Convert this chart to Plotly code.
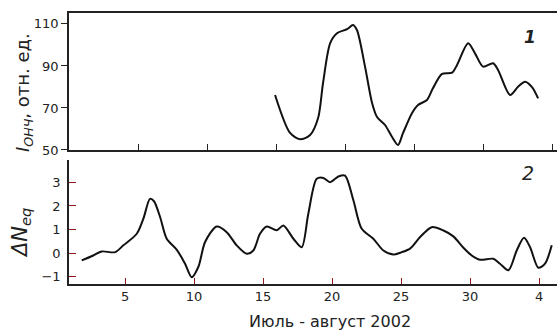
import plotly.graph_objects as go

# Panel 1: I_ONCH (relative units) vs day (July = 1..31, August = 32..)
days1 = [15.87, 16.96, 17.68, 18.41, 18.99, 19.35, 19.86, 20.36, 21.09, 21.52, 21.81,
         22.39, 22.9, 23.26, 23.84, 24.35, 24.78, 25.14, 25.8, 26.23, 26.88, 27.32,
         27.97, 28.7, 29.06, 29.86, 30.36, 30.94, 31.67, 32.03, 32.9, 33.48, 33.99,
         34.49, 34.93]
vals1 = [76.2, 58.1, 55.1, 57.1, 65.2, 82.0, 100.8, 105.6, 107.5, 109.5, 107.0,
         89.7, 72.4, 65.7, 61.9, 56.2, 52.4, 58.0, 67.6, 71.4, 73.8, 79.5,
         86.2, 86.8, 90.5, 100.8, 96.0, 89.7, 91.3, 88.1, 76.2, 80.1, 82.5,
         79.9, 74.6]

# Panel 2: Delta N_eq
days2 = [1.86, 2.7, 3.31, 4.28, 4.88, 5.85, 6.33, 6.81, 7.1, 7.54, 8.02, 8.75, 9.35,
         9.83, 10.31, 10.8, 11.64, 12.37, 13.09, 13.82, 14.3, 14.78, 15.27, 15.99,
         16.47, 17.2, 17.8, 18.28, 18.89, 19.37, 19.86, 20.46, 20.94, 21.55, 22.15,
         22.99, 23.72, 24.44, 25.05, 25.65, 26.38, 27.22, 28.07, 28.79, 29.52, 30.12,
         30.72, 31.69, 32.17, 32.78, 33.38, 33.91, 34.35, 34.95, 35.43, 35.92]
vals2 = [-0.31, -0.1, 0.07, 0.04, 0.33, 0.82, 1.46, 2.3, 2.2, 1.53, 0.61, 0.14, -0.45,
         -1.02, -0.59, 0.47, 1.13, 0.89, 0.33, -0.03, 0.11, 0.82, 1.13, 0.97,
         1.17, 0.61, 0.25, 1.67, 3.15, 3.19, 3.01, 3.25, 3.29, 2.23, 1.03,
         0.61, 0.11, -0.06, 0.04, 0.19, 0.68, 1.1, 0.96, 0.71, 0.23, -0.1,
         -0.28, -0.24, -0.45, -0.73, 0.11, 0.65, 0.25, -0.62, -0.45, 0.33]

xtick_vals = [5, 10, 15, 20, 25, 30, 35]
xtick_text = ["5", "10", "15", "20", "25", "30", "4"]
top_xtick_vals = [6, 11, 16, 21, 26, 31, 36]
y1_ticks = [50, 70, 90, 110]
y2_ticks = [-1, 0, 1, 2, 3]

FONT = "DejaVu Sans"
DARKRED = "#8b1a1a"

fig = go.Figure()
fig.add_trace(go.Scatter(x=days1, y=vals1, mode="lines", line=dict(color="#111", width=2, shape="spline", smoothing=0.8),
                         xaxis="x2", yaxis="y2", showlegend=False, hoverinfo="skip"))
fig.add_trace(go.Scatter(x=days2, y=vals2, mode="lines", line=dict(color="#111", width=2, shape="spline", smoothing=0.8),
                         xaxis="x", yaxis="y", showlegend=False, hoverinfo="skip"))

xr = [0.94, 36.3]
fig.update_layout(
    width=557, height=332,
    margin=dict(l=69, r=0, t=13, b=48),
    paper_bgcolor="white", plot_bgcolor="white",
    font=dict(family=FONT, size=13, color="#222"),
    xaxis=dict(domain=[0, 1], range=xr, anchor="y", tickvals=xtick_vals, ticktext=xtick_text,
               ticks="inside", ticklen=6, tickcolor=DARKRED, tickwidth=1,
               showline=True, linecolor="#222", linewidth=1.5, showgrid=False, zeroline=False,
               tickfont=dict(size=13, color="#222")),
    yaxis=dict(domain=[0, 0.4576], range=[-1.31, 3.95], anchor="x", tickvals=y2_ticks,
               ticks="inside", ticklen=7, tickcolor=DARKRED, tickwidth=1,
               showline=True, linecolor="#222", linewidth=1.5, showgrid=False, zeroline=False,
               ticklabelstandoff=4, tickfont=dict(size=13, color="#222")),
    xaxis2=dict(domain=[0, 1], range=xr, anchor="y2", tickvals=top_xtick_vals, showticklabels=False,
                ticks="inside", ticklen=6, tickcolor="#222", tickwidth=1,
                showline=True, linecolor="#222", linewidth=1.5, mirror=True, showgrid=False, zeroline=False),
    yaxis2=dict(domain=[0.4945, 1], range=[50, 115.2], anchor="x2", tickvals=y1_ticks,
                ticks="outside", ticklen=6, tickcolor="#222", tickwidth=1,
                showline=True, linecolor="#222", linewidth=1.5, showgrid=False, zeroline=False,
                tickfont=dict(size=13, color="#222")),
    annotations=[
        dict(text="Июль - август 2002", xref="paper", yref="paper", x=(330 - 69) / 488, y=(332 - 48 - 322) / 271,
             showarrow=False, font=dict(size=16, color="#222"), xanchor="center", yanchor="middle"),
        dict(text="<i>I<sub>ОНЧ</sub></i>, отн. ед.", xref="paper", yref="paper",
             x=-(69 - 24) / 488, y=(284 - 93) / 271, textangle=-90, showarrow=False,
             font=dict(size=18, color="#222"), xanchor="center", yanchor="middle"),
        dict(text="<i>ΔN<sub>eq</sub></i>", xref="paper", yref="paper",
             x=-(69 - 21) / 488, y=(284 - 233) / 271, textangle=-90, showarrow=False,
             font=dict(size=21, color="#222"), xanchor="center", yanchor="middle"),
        dict(text="<b><i>1</i></b>", xref="paper", yref="paper", x=(530 - 69) / 488, y=(284 - 37) / 271,
             showarrow=False, font=dict(size=17, color="#222"), xanchor="center", yanchor="middle"),
        dict(text="<i>2</i>", xref="paper", yref="paper", x=(528 - 69) / 488, y=(284 - 173) / 271,
             showarrow=False, font=dict(size=19, color="#222"), xanchor="center", yanchor="middle"),
    ],
)

fig.write_html("out.html")
